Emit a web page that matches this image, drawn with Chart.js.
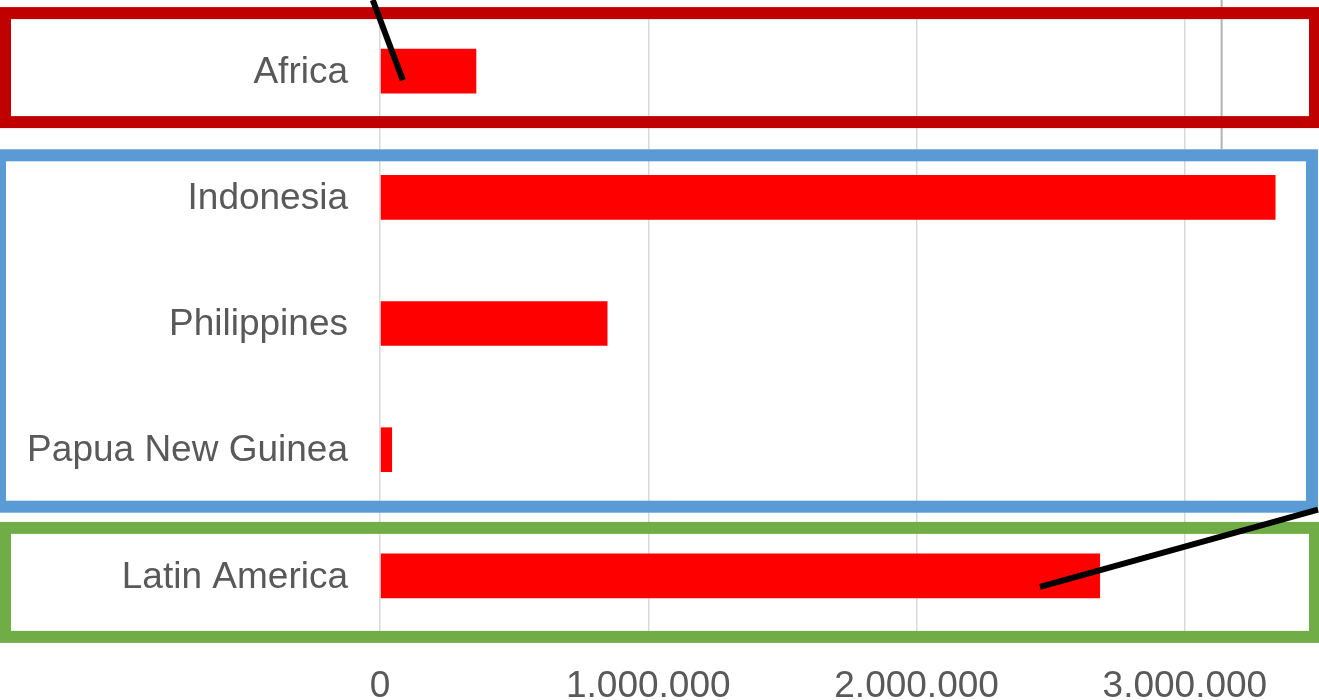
<!DOCTYPE html>
<html>
<head>
<meta charset="utf-8">
<script src="https://cdn.jsdelivr.net/npm/chart.js@4/dist/chart.umd.min.js"></script>
<style>
html,body{margin:0;padding:0;background:#fff;overflow:hidden;}
#wrap{width:1319px;height:700px;position:relative;}
</style>
</head>
<body>
<div id="wrap"><canvas id="c" width="1319" height="700"></canvas></div>
<script>
const categories = ["Africa", "Indonesia", "Philippines", "Papua New Guinea", "Latin America"];
const values = [359000, 3338000, 848000, 45000, 2684000];
const tickValues = [0, 1000000, 2000000, 3000000];
const xMax = 3500000;

function fmt(v){ return String(Math.round(v)).replace(/\B(?=(\d{3})+(?!\d))/g, "."); }

// decorative overlays (groups of categories), offsets in px from category centres
const groupBoxes = [
  {from:0, to:0, color:"#C00000", topOff:-58, botOff:51, left:5, rightInset:4},
  {from:1, to:3, color:"#5B9BD5", topOff:-42, botOff:57, left:0, rightInset:7},
  {from:4, to:4, color:"#70AD47", topOff:-48, botOff:61, left:5, rightInset:4}
];

const overlay = {
  id:"overlay",
  beforeDatasetsDraw(chart){
    const ctx = chart.ctx, xs = chart.scales.x, ys = chart.scales.y;
    const gx = xs.getPixelForValue(3137000);
    ctx.save();
    ctx.strokeStyle = "#b3b3b3";
    ctx.lineWidth = 2;
    ctx.beginPath();
    ctx.moveTo(gx, 0);
    ctx.lineTo(gx, ys.getPixelForValue(1) - 48);
    ctx.stroke();
    ctx.restore();
  },
  afterDatasetsDraw(chart){
    const ctx = chart.ctx, xs = chart.scales.x, ys = chart.scales.y;
    ctx.save();
    ctx.lineWidth = 12;
    groupBoxes.forEach(b=>{
      const top = ys.getPixelForValue(b.from) + b.topOff;
      const bot = ys.getPixelForValue(b.to) + b.botOff;
      const right = chart.width - b.rightInset;
      ctx.strokeStyle = b.color;
      ctx.strokeRect(b.left, top, right - b.left, bot - top);
    });
    // connector lines
    ctx.strokeStyle = "#000";
    ctx.lineWidth = 6;
    ctx.beginPath();
    ctx.moveTo(xs.getPixelForValue(-27000), 0);
    ctx.lineTo(xs.getPixelForValue(85000), ys.getPixelForValue(0) + 9);
    ctx.stroke();
    ctx.beginPath();
    ctx.moveTo(xs.getPixelForValue(2460000), ys.getPixelForValue(4) + 11);
    ctx.lineTo(chart.width - 1, ys.getPixelForValue(3) + 60);
    ctx.stroke();
    ctx.restore();
  }
};

new Chart(document.getElementById("c"), {
  type: "bar",
  data: {
    labels: categories,
    datasets: [{
      data: values,
      backgroundColor: "#FF0000",
      borderWidth: 0,
      categoryPercentage: 1,
      barPercentage: 0.354
    }]
  },
  options: {
    indexAxis: "y",
    responsive: false,
    animation: false,
    layout: {padding: {top: 8, right: 0, bottom: 0, left: 0}},
    plugins: {legend: {display: false}, tooltip: {enabled: false}},
    scales: {
      x: {
        min: 0, max: xMax,
        afterFit(s){ s.height = 61; s.paddingLeft = 0; s.paddingRight = 0; },
        afterBuildTicks(s){ s.ticks = tickValues.map(v=>({value:v})); },
        grid: {color: "#d9d9d9", lineWidth: 1.5, drawTicks: false},
        border: {display: false},
        ticks: {
          padding: 26,
          color: "#595959",
          font: {family: "'Liberation Sans', Arial, sans-serif", size: 37},
          callback: v => fmt(v),
          maxRotation: 0, autoSkip: false
        }
      },
      y: {
        afterFit(s){ s.width = 380; s.paddingTop = 0; s.paddingBottom = 0; },
        grid: {display: false},
        border: {display: false},
        ticks: {
          padding: 24,
          labelOffset: 1.5,
          color: "#595959",
          font: {family: "'Liberation Sans', Arial, sans-serif", size: 37}
        }
      }
    }
  },
  plugins: [overlay]
});
</script>
</body>
</html>
